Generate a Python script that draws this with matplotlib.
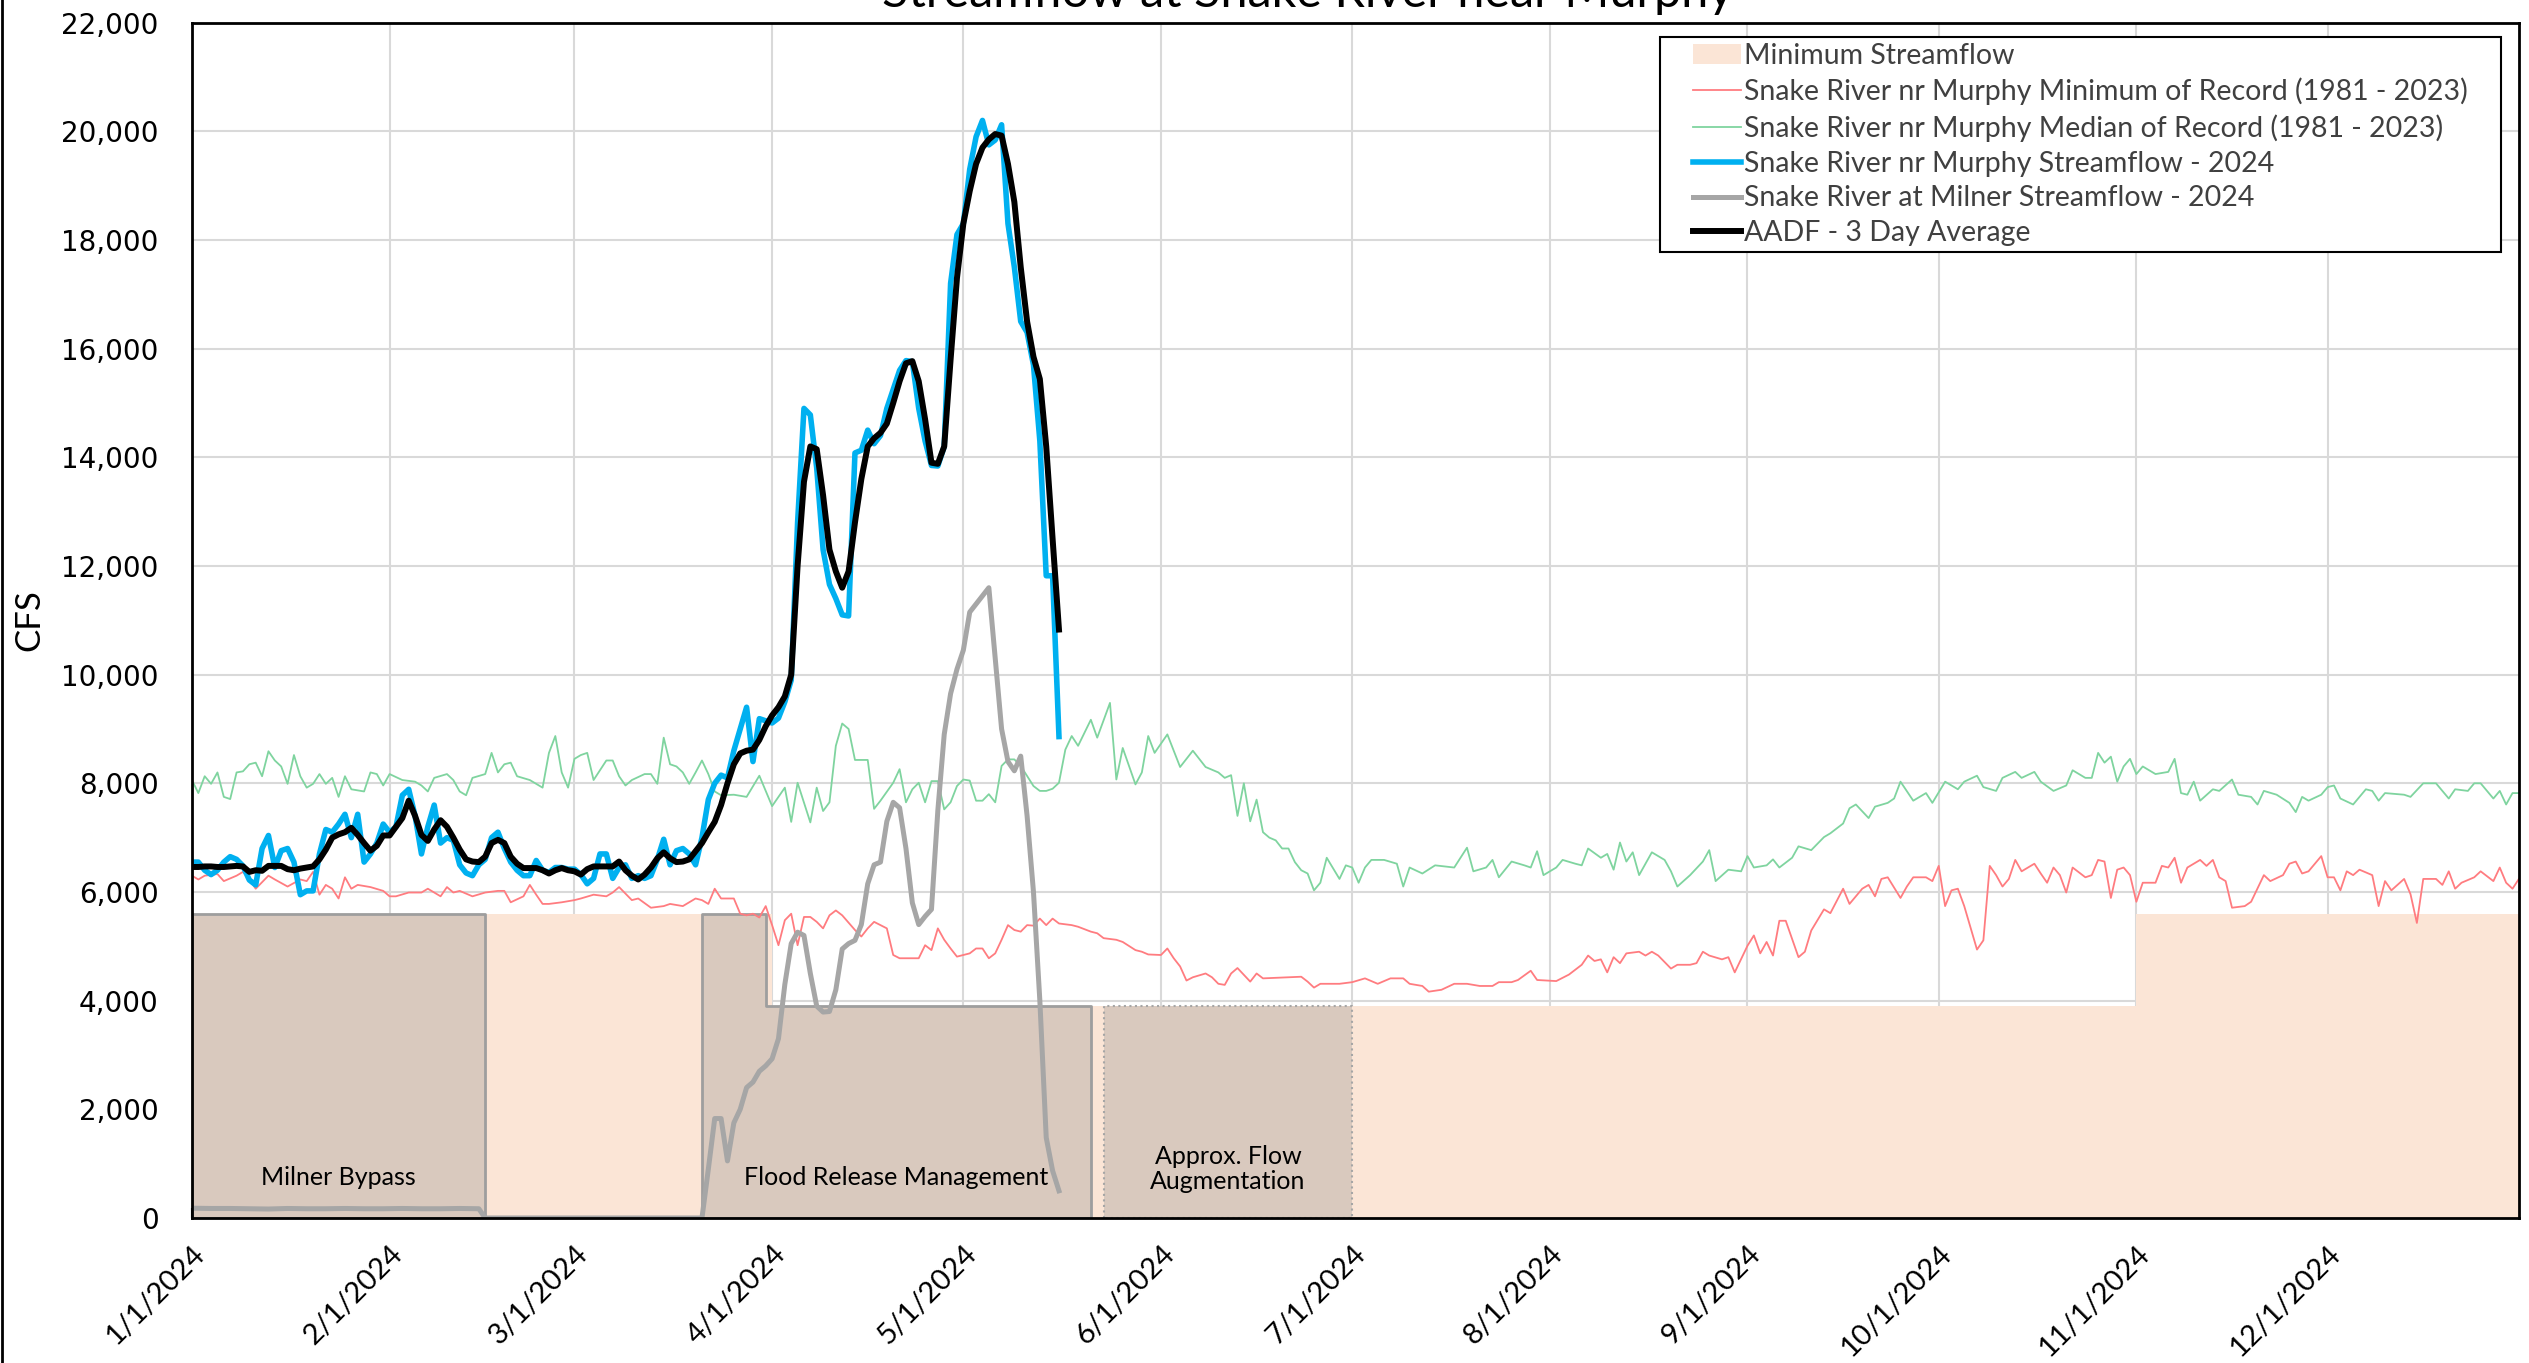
import pandas as pd
import matplotlib
matplotlib.use('Agg')
import matplotlib.pyplot as plt
import matplotlib.transforms as mtransforms
from matplotlib.lines import Line2D
from matplotlib.patches import Patch, Rectangle

# Values (day = days after 1/1/2024, flow in CFS)
murphy_days = list(range(0, 137))
murphy_cfs = [6550, 6550, 6400, 6320, 6400, 6550, 6650, 6600, 6480, 6220,
              6130, 6800, 7040, 6450, 6760, 6800, 6550, 5950, 6020, 6020,
              6700, 7150, 7100, 7250, 7430, 7000, 7430, 6550, 6700, 6900,
              7250, 7100, 7200, 7780, 7890, 7400, 6700, 7200, 7600, 6900,
              7000, 6950, 6500, 6350, 6300, 6500, 6600, 7000, 7100, 6800,
              6550, 6400, 6300, 6300, 6580, 6400, 6360, 6450, 6450, 6420,
              6420, 6320, 6150, 6250, 6700, 6700, 6250, 6450, 6500, 6250,
              6300, 6250, 6300, 6600, 6970, 6500, 6760, 6800, 6700, 6500,
              7000, 7700, 8000, 8150, 8100, 8600, 9000, 9400, 8400, 9190,
              9150, 9110, 9200, 9500, 9900, 12800, 14900, 14780, 13800, 12300,
              11660, 11400, 11100, 11080, 14080, 14130, 14500, 14250, 14400, 14900,
              15250, 15600, 15780, 15760, 14900, 14300, 13850, 13840, 14200, 17200,
              18100, 18300, 19300, 19900, 20200, 19750, 19840, 20120, 18300, 17500,
              16500, 16300, 15700, 14300, 11820, 11820, 8860]

aadf_days = list(range(0, 137))
aadf_cfs = [6460, 6460, 6470, 6470, 6460, 6460, 6470, 6480, 6470, 6370,
            6400, 6390, 6480, 6480, 6480, 6420, 6400, 6430, 6450, 6470,
            6600, 6780, 7000, 7060, 7100, 7180, 7050, 6900, 6760, 6850,
            7040, 7040, 7200, 7360, 7680, 7400, 7050, 6940, 7150, 7320,
            7200, 7000, 6780, 6600, 6560, 6550, 6650, 6900, 6960, 6900,
            6650, 6520, 6440, 6440, 6440, 6400, 6340, 6400, 6440, 6400,
            6380, 6320, 6420, 6470, 6470, 6470, 6470, 6560, 6400, 6300,
            6230, 6320, 6450, 6620, 6730, 6620, 6550, 6560, 6600, 6750,
            6900, 7100, 7290, 7600, 8000, 8350, 8550, 8600, 8620, 8800,
            9050, 9250, 9400, 9600, 10000, 12000, 13550, 14200, 14150, 13300,
            12300, 11900, 11600, 11900, 12800, 13600, 14200, 14350, 14450, 14620,
            15000, 15400, 15730, 15770, 15400, 14700, 13900, 13880, 14200, 15800,
            17300, 18300, 18900, 19400, 19700, 19850, 19950, 19920, 19400, 18700,
            17500, 16500, 15850, 15440, 14200, 12500, 10830]

milner_days = [0, 3, 6, 9, 12, 15, 18, 21, 24, 27, 30, 33, 36, 39, 42, 45,
               46, 60, 70, 80, 81, 82, 83, 84, 85, 86, 87, 88, 89, 90,
               91, 92, 93, 94, 95, 96, 97, 98, 99, 100, 101, 102, 103, 104,
               105, 106, 107, 108, 109, 110, 111, 112, 113, 114, 115, 116, 117, 118,
               119, 120, 121, 122, 123, 124, 125, 126, 127, 128, 129, 130, 131, 132,
               133, 134, 135, 136]
milner_cfs = [180, 175, 175, 170, 165, 175, 170, 170, 175, 170, 170, 175, 170, 170, 175, 170,
              0, 0, 0, 0, 900, 1830, 1830, 1050, 1750, 2000, 2400, 2500, 2700, 2800,
              2930, 3300, 4300, 5050, 5260, 5200, 4500, 3900, 3790, 3800, 4200, 4950, 5050, 5110,
              5400, 6150, 6500, 6550, 7300, 7650, 7550, 6800, 5800, 5400, 5550, 5680, 7500, 8900,
              9650, 10100, 10450, 11150, 11300, 11450, 11600, 10300, 9000, 8400, 8230, 8500, 7400, 6000,
              4000, 1480, 870, 500]

median_days = [0, 1, 2, 3, 4, 5, 6, 7, 8, 9, 10, 11, 12, 13, 14, 15, 16, 17, 18, 19,
               20, 21, 22, 23, 24, 25, 27, 28, 29, 30, 31, 33, 35, 36, 37, 38, 40, 41, 42, 43,
               44, 46, 47, 48, 49, 50, 51, 53, 55, 56, 57, 58, 59, 60, 61, 62, 63, 64, 65, 66,
               67, 68, 69, 71, 72, 73, 74, 75, 76, 77, 78, 79, 80, 81, 82, 83, 85, 87, 89, 91,
               93, 94, 95, 97, 98, 99, 100, 101, 102, 103, 104, 106, 107, 108, 110, 111, 112, 113, 114, 115,
               116, 117, 118, 119, 120, 121, 122, 123, 124, 125, 126, 127, 128, 129, 130, 132, 133, 134, 135, 136,
               137, 138, 139, 141, 142, 144, 145, 146, 148, 149, 150, 151, 153, 155, 157, 159, 161, 162, 163, 164,
               165, 166, 167, 168, 169, 170, 171, 172, 173, 174, 175, 176, 177, 178, 180, 181, 182, 183, 184, 185,
               187, 189, 190, 191, 193, 195, 198, 200, 201, 203, 204, 205, 207, 209, 210, 211, 212, 214, 215, 217,
               218, 219, 221, 222, 223, 224, 225, 226, 227, 229, 231, 232, 233, 235, 237, 238, 239, 241, 243, 244,
               245, 247, 248, 249, 251, 252, 254, 256, 257, 259, 260, 261, 263, 264, 266, 267, 268, 270, 272, 273,
               275, 277, 278, 280, 281, 283, 284, 286, 287, 289, 290, 292, 294, 295, 297, 298, 299, 300, 301, 302,
               303, 304, 305, 306, 308, 310, 311, 312, 313, 314, 315, 317, 318, 320, 321, 323, 324, 325, 327, 329,
               330, 331, 332, 334, 335, 336, 337, 339, 341, 342, 343, 344, 347, 348, 350, 351, 352, 354, 355, 357,
               358, 359, 361, 362, 363, 364, 365]
median_cfs = [8060, 7820, 8130, 7990, 8200, 7750, 7710, 8200, 8220, 8350, 8380, 8130, 8590, 8420, 8310, 7990, 8520, 8130, 7920, 7990,
              8170, 7990, 8100, 7750, 8130, 7890, 7850, 8200, 8170, 7960, 8170, 8060, 8030, 7960, 7850, 8100, 8170, 8060, 7850, 7780,
              8100, 8170, 8560, 8200, 8350, 8380, 8130, 8060, 7920, 8560, 8870, 8200, 7920, 8450, 8520, 8560, 8060, 8240, 8420, 8420,
              8130, 7960, 8060, 8170, 8170, 7990, 8840, 8350, 8310, 8200, 7990, 8200, 8420, 8170, 7850, 7780, 7790, 7750, 8140, 7580,
              7920, 7290, 8010, 7280, 7920, 7490, 7650, 8690, 9100, 9000, 8430, 8430, 7530, 7680, 8010, 8260, 7650, 7890, 8010, 7650,
              8040, 8040, 7520, 7650, 7950, 8070, 8050, 7680, 7680, 7800, 7650, 8320, 8440, 8440, 8320, 7950, 7860, 7860, 7900, 8010,
              8620, 8870, 8690, 9170, 8840, 9480, 8070, 8650, 7980, 8200, 8870, 8560, 8900, 8300, 8600, 8300, 8200, 8100, 8150, 7400,
              8000, 7300, 7700, 7100, 7000, 6950, 6800, 6800, 6550, 6400, 6340, 6030, 6170, 6630, 6240, 6490, 6450, 6170, 6450, 6590,
              6590, 6520, 6100, 6450, 6340, 6490, 6450, 6815, 6380, 6450, 6590, 6270, 6560, 6490, 6450, 6750, 6310, 6450, 6590, 6520,
              6490, 6800, 6630, 6700, 6410, 6910, 6560, 6730, 6310, 6730, 6590, 6380, 6100, 6310, 6560, 6770, 6200, 6410, 6380, 6660,
              6450, 6490, 6600, 6450, 6630, 6840, 6770, 7010, 7080, 7260, 7540, 7610, 7360, 7570, 7640, 7720, 8030, 7680, 7820, 7640,
              8030, 7890, 8030, 8140, 7930, 7860, 8100, 8210, 8100, 8210, 8030, 7860, 7960, 8240, 8100, 8100, 8560, 8380, 8490, 8030,
              8310, 8450, 8170, 8310, 8170, 8210, 8450, 7820, 7790, 8030, 7680, 7890, 7860, 8070, 7790, 7750, 7610, 7860, 7790, 7640,
              7470, 7750, 7680, 7790, 7930, 7960, 7720, 7610, 7890, 7860, 7680, 7820, 7790, 7750, 8000, 8000, 8000, 7720, 7890, 7860,
              8000, 8000, 7720, 7860, 7610, 7820, 7820]

minimum_days = [0, 1, 2, 4, 5, 7, 8, 9, 10, 12, 13, 15, 17, 18, 19, 20, 21, 22, 23, 24,
                25, 26, 28, 30, 31, 32, 34, 36, 37, 38, 39, 40, 41, 42, 44, 46, 48, 49, 50, 52,
                53, 54, 55, 56, 58, 60, 61, 63, 65, 66, 67, 69, 70, 72, 74, 75, 77, 79, 80, 81,
                82, 83, 85, 86, 87, 88, 89, 90, 91, 92, 93, 94, 95, 96, 97, 98, 99, 100, 101, 102,
                104, 105, 106, 107, 109, 110, 111, 113, 114, 115, 116, 117, 118, 119, 120, 122, 123, 124, 125, 126,
                127, 128, 129, 130, 131, 132, 133, 134, 135, 136, 138, 139, 141, 142, 143, 145, 146, 148, 149, 150,
                152, 153, 154, 155, 156, 157, 159, 160, 161, 162, 163, 164, 166, 167, 168, 170, 172, 174, 175, 176,
                177, 178, 180, 182, 184, 186, 188, 190, 191, 193, 194, 196, 198, 200, 202, 204, 205, 207, 208, 210,
                211, 214, 216, 218, 219, 220, 221, 222, 223, 224, 225, 227, 228, 229, 230, 232, 233, 235, 236, 237,
                238, 240, 241, 242, 244, 245, 246, 247, 248, 249, 250, 252, 253, 254, 256, 257, 259, 260, 262, 263,
                264, 265, 266, 268, 269, 270, 272, 273, 274, 275, 276, 277, 278, 280, 281, 282, 283, 284, 285, 286,
                287, 289, 290, 291, 292, 293, 294, 295, 297, 298, 299, 300, 301, 302, 303, 304, 305, 306, 308, 309,
                310, 311, 312, 313, 315, 316, 317, 318, 319, 320, 322, 323, 325, 326, 328, 329, 330, 331, 332, 334,
                335, 336, 337, 338, 339, 340, 342, 343, 344, 345, 347, 348, 349, 350, 352, 353, 354, 355, 356, 358,
                359, 361, 362, 363, 364, 365]
minimum_cfs = [6300, 6230, 6300, 6330, 6200, 6300, 6370, 6230, 6060, 6300, 6230, 6100, 6230, 6200, 6370, 5950, 6130, 6060, 5880, 6270,
               6060, 6130, 6090, 6020, 5920, 5920, 5990, 5990, 6060, 5990, 5920, 6090, 5990, 6020, 5920, 5990, 6020, 6020, 5810, 5920,
               6130, 5950, 5780, 5780, 5810, 5850, 5880, 5950, 5920, 5990, 6090, 5850, 5880, 5710, 5740, 5780, 5740, 5880, 5850, 5780,
               6060, 5880, 5880, 5600, 5570, 5600, 5530, 5740, 5390, 5020, 5480, 5600, 5020, 5540, 5540, 5450, 5330, 5570, 5660, 5570,
               5300, 5180, 5330, 5450, 5330, 4840, 4780, 4780, 4780, 5020, 4930, 5330, 5120, 4960, 4810, 4870, 4960, 4960, 4780, 4870,
               5120, 5390, 5300, 5270, 5390, 5380, 5510, 5390, 5510, 5420, 5390, 5360, 5270, 5240, 5150, 5120, 5080, 4930, 4900, 4850,
               4840, 4960, 4780, 4630, 4370, 4430, 4500, 4430, 4310, 4290, 4500, 4600, 4350, 4500, 4410, 4420, 4430, 4440, 4350, 4240,
               4310, 4310, 4310, 4340, 4410, 4310, 4410, 4410, 4310, 4270, 4165, 4200, 4310, 4310, 4270, 4270, 4340, 4340, 4380, 4550,
               4380, 4360, 4480, 4660, 4830, 4730, 4760, 4520, 4800, 4690, 4870, 4900, 4830, 4900, 4830, 4590, 4660, 4660, 4690, 4900,
               4830, 4760, 4800, 4520, 5010, 5200, 4870, 5080, 4830, 5470, 5470, 4800, 4900, 5290, 5680, 5610, 6060, 5780, 6060, 6130,
               5920, 6240, 6270, 5890, 6100, 6270, 6270, 6200, 6480, 5740, 6030, 6060, 5740, 4940, 5110, 6480, 6310, 6100, 6240, 6590,
               6380, 6520, 6340, 6170, 6450, 6310, 5990, 6450, 6270, 6310, 6590, 6560, 5890, 6410, 6450, 6310, 5820, 6170, 6170, 6480,
               6450, 6630, 6170, 6450, 6590, 6480, 6590, 6270, 6200, 5710, 5740, 5820, 6310, 6200, 6310, 6520, 6560, 6340, 6380, 6660,
               6270, 6270, 6030, 6380, 6310, 6410, 6310, 5740, 6200, 6030, 6240, 5960, 5430, 6240, 6240, 6130, 6380, 6060, 6170, 6270,
               6380, 6200, 6450, 6170, 6060, 6240]

# Minimum streamflow requirement (steps) and the shaded management periods
minflow_days = [0, 91, 305, 365]
minflow_cfs = [5600, 3900, 5600, 5600]
milner_bypass_days = [0, 46]
milner_bypass_cfs = [5600, 5600]
flood_days = [80, 90, 141]
flood_cfs = [5600, 3900, 3900]
augment_days = [143, 182]
augment_cfs = [3900, 3900]

month_labels = ['1/1/2024', '2/1/2024', '3/1/2024', '4/1/2024', '5/1/2024', '6/1/2024',
                '7/1/2024', '8/1/2024', '9/1/2024', '10/1/2024', '11/1/2024', '12/1/2024']
y_ticks = list(range(0, 22001, 2000))

start = pd.Timestamp('2024-01-01')


def to_dates(days):
    return start + pd.to_timedelta(days, unit='D')


LABEL_FONT = 'Lato'

fig = plt.figure(figsize=(25.29, 13.63), dpi=100)
ax = fig.add_axes([0.0759, 0.1064, 0.9201, 0.8770])

# shaded minimum streamflow and management periods
ax.fill_between(to_dates(minflow_days), minflow_cfs, step='post',
                color='#FBE5D6', linewidth=0, zorder=1)
box_style = dict(step='post', facecolor='#D9C9BE', edgecolor='#9E9E9E', linewidth=2.0, zorder=2)
ax.fill_between(to_dates(milner_bypass_days), milner_bypass_cfs, **box_style)
ax.fill_between(to_dates(flood_days), flood_cfs, **box_style)
ax.fill_between(to_dates(augment_days), augment_cfs, step='post', facecolor='#D9C9BE',
                edgecolor='#A6A6A6', linewidth=1.5, linestyle=':', zorder=2)

ax.text(to_dates([23])[0], 740, 'Milner Bypass', ha='center', va='center',
        fontsize=18, family=LABEL_FONT, zorder=3)
ax.text(to_dates([110.5])[0], 740, 'Flood Release Management', ha='center', va='center',
        fontsize=18, family=LABEL_FONT, zorder=3)
ax.text(to_dates([162.5])[0], 905, 'Approx. Flow\nAugmentation', ha='center', va='center',
        fontsize=18, family=LABEL_FONT, linespacing=1.1, zorder=3)

# series
ax.plot(to_dates(minimum_days), minimum_cfs, color='#FF7C80', linewidth=1.3, zorder=4,
        label='Snake River nr Murphy Minimum of Record (1981 - 2023)')
ax.plot(to_dates(median_days), median_cfs, color='#7FD49F', linewidth=1.3, zorder=4,
        label='Snake River nr Murphy Median of Record (1981 - 2023)')
ax.plot(to_dates(murphy_days), murphy_cfs, color='#00B0F0', linewidth=4.0, zorder=6,
        label='Snake River nr Murphy Streamflow - 2024')
ax.plot(to_dates(milner_days), milner_cfs, color='#A6A6A6', linewidth=3.6, zorder=5,
        label='Snake River at Milner Streamflow - 2024')
ax.plot(to_dates(aadf_days), aadf_cfs, color='black', linewidth=4.3, zorder=7,
        label='AADF - 3 Day Average')

# axes
month_dates = pd.date_range('2024-01-01', periods=12, freq='MS')
ax.set_xlim(start, pd.Timestamp('2024-12-31'))
ax.set_ylim(0, 22000)
ax.set_xticks(month_dates)
ax.set_xticklabels(month_labels, rotation=45, ha='right', va='top',
                   rotation_mode='anchor', fontsize=21, family=LABEL_FONT)
shift = mtransforms.ScaledTranslation(8 / 100, 0, fig.dpi_scale_trans)
for lbl in ax.get_xticklabels():
    lbl.set_transform(lbl.get_transform() + shift)
ax.set_yticks(y_ticks)
ax.set_yticklabels([f'{v:,}' for v in y_ticks], fontsize=20, family='DejaVu Sans')
ax.tick_params(axis='x', direction='in', length=7, width=1.5, pad=16)
ax.tick_params(axis='y', length=0, pad=24)
ax.grid(True, color='#D9D9D9', linewidth=1.5, zorder=0)
ax.set_axisbelow(True)
for sp in ax.spines.values():
    sp.set_linewidth(2.0)
    sp.set_color('black')
    sp.set_zorder(8)

fig.text(0.0115, 0.545, 'CFS', rotation=90, ha='center', va='center',
         fontsize=25, family=LABEL_FONT)
fig.text(0.517, 0.9949, 'Streamflow at Snake River near Murphy', ha='center', va='baseline',
         fontsize=35, family=LABEL_FONT)
fig.add_artist(Line2D([0.0006, 0.0006], [0, 1], color='black', linewidth=2,
                      transform=fig.transFigure))

# legend: area patch first, then the lines; frame drawn separately for wider side padding
handles, labels = ax.get_legend_handles_labels()
handles = [Patch(facecolor='#FBE5D6', edgecolor='none')] + handles
labels = ['Minimum Streamflow'] + labels
leg = ax.legend(handles, labels, loc='upper right', bbox_to_anchor=(0.978, 0.983),
                borderaxespad=0, prop={'family': LABEL_FONT, 'size': 20.5},
                frameon=False, labelspacing=0.31, handlelength=1.7, handletextpad=0.1,
                borderpad=0, handleheight=0.7)
leg.set_zorder(10)
for txt in leg.get_texts():
    txt.set_color('#404040')

fig.canvas.draw()
bb = leg.get_window_extent()
pad_x, pad_y = 33, 6
frame = Rectangle((bb.x0 - pad_x, bb.y0 - pad_y), bb.width + 2 * pad_x, bb.height + 2 * pad_y,
                  transform=mtransforms.IdentityTransform(), facecolor='white',
                  edgecolor='black', linewidth=1.5, zorder=9)
fig.add_artist(frame)
leg.remove()
fig.add_artist(leg)
leg.set_zorder(11)

fig.savefig('out.png', dpi=100)
